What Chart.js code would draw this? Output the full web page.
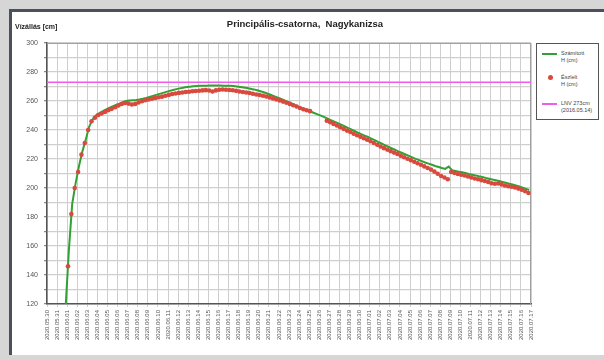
<!DOCTYPE html>
<html lang="hu">
<head>
<meta charset="utf-8">
<title>Principális-csatorna, Nagykanizsa</title>
<script src="https://cdn.jsdelivr.net/npm/chart.js@4.4.1/dist/chart.umd.min.js"></script>
<style>
  html, body { margin: 0; padding: 0; background: #fff; }
  #page { position: relative; width: 604px; height: 360px; background: #d6d6d6; overflow: hidden;
          font-family: "Liberation Sans", Arial, sans-serif; }
  #sheet { position: absolute; left: 9px; top: 9px; width: 595px; height: 346px; background: #fff;
           border-top: 3px solid #4b515c; border-left: 3px solid #4b515c; box-sizing: border-box; }
  #chart { position: absolute; left: 0; top: 0; }
  #title { position: absolute; left: 0; width: 610px; top: 18px; text-align: center;
           font-weight: bold; font-size: 9.5px; color: #222; }
  #ytitle { position: absolute; left: 15px; top: 23px; font-weight: bold; font-size: 7px; color: #222; }
  #legend { position: absolute; left: 536px; top: 43px; width: 63px; height: 77px; background: #fff;
            border: 1.5px solid #555; box-sizing: border-box; font-size: 5.5px; line-height: 7px; color: #444; }
  .item { position: absolute; left: 24px; }
  .swatch { position: absolute; left: 5px; width: 15px; height: 2px; }
  .dot { position: absolute; left: 11px; width: 5px; height: 5px; border-radius: 50%; background: #d84a3e; }
</style>
</head>
<body>
<div id="page">
  <div id="sheet"></div>
  <canvas id="chart" width="604" height="360"></canvas>
  <div id="title">Principális-csatorna,&nbsp; Nagykanizsa</div>
  <div id="ytitle">Vízállás [cm]</div>
  <div id="legend">
    <div class="swatch" style="top:9px;background:#33a033;"></div>
    <div class="item" style="top:6px;">Számított<br>H (cm)</div>
    <div class="dot" style="top:31px;"></div>
    <div class="item" style="top:30px;">Észlelt<br>H (cm)</div>
    <div class="swatch" style="top:59px;background:#f05af0;"></div>
    <div class="item" style="top:56px;">LNV 273cm<br>(2016.05.14)</div>
  </div>
</div>
<script>
// Daily tick labels along the time axis (day index 0..48)
const dateLabels = [
  "2020.05.30", "2020.05.31", "2020.06.01", "2020.06.02", "2020.06.03", "2020.06.04", "2020.06.05",
  "2020.06.06", "2020.06.07", "2020.06.08", "2020.06.09", "2020.06.10", "2020.06.11", "2020.06.12",
  "2020.06.13", "2020.06.14", "2020.06.15", "2020.06.16", "2020.06.17", "2020.06.18", "2020.06.19",
  "2020.06.20", "2020.06.21", "2020.06.22", "2020.06.23", "2020.06.24", "2020.06.25", "2020.06.26",
  "2020.06.27", "2020.06.28", "2020.06.29", "2020.06.30", "2020.07.01", "2020.07.02", "2020.07.03",
  "2020.07.04", "2020.07.05", "2020.07.06", "2020.07.07", "2020.07.08", "2020.07.09", "2020.07.10",
  "2020.07.11", "2020.07.12", "2020.07.13", "2020.07.14", "2020.07.15", "2020.07.16", "2020.07.17"
];

// Series are sampled every 8 hours; start offsets are hours after the first label
const STEP_HOURS = 8;
const COMPUTED_START_H = 44;
const OBSERVED_START_H = 50;

// Computed water level, cm
const computedLevels = [
  116, 157, 189, 203, 215, 225, 233, 242, 247, 250,
  251.5, 252.8, 254, 255.2, 256.3, 257.3, 258.2, 259.2, 260.0, 260.3,
  260.5, 260.7, 261.0, 261.5, 262.1, 262.8, 263.5, 264.2, 264.9, 265.6,
  266.3, 267.0, 267.6, 268.2, 268.7, 269.2, 269.6, 269.9, 270.2, 270.4,
  270.5, 270.6, 270.6, 270.7, 270.7, 270.7, 270.7, 270.6, 270.6, 270.5,
  270.3, 270.0, 269.7, 269.3, 268.9, 268.5, 268.0, 267.4, 266.7, 266.0,
  265.2, 264.3, 263.4, 262.5, 261.6, 260.6, 259.6, 258.6, 257.5, 256.4,
  255.3, 254.4, 253.5, 252.6, 251.7, 250.8, 249.9, 248.9, 247.8, 246.7,
  245.8, 244.8, 243.7, 242.6, 241.5, 240.4, 239.3, 238.2, 237.1, 236.1,
  235.2, 234.1, 233.0, 231.8, 230.7, 229.6, 228.5, 227.4, 226.4, 225.3,
  224.3, 223.3, 222.3, 221.3, 220.3, 219.4, 218.5, 217.6, 216.8, 216.0,
  215.2, 214.5, 213.8, 213.2, 214.8, 212.3, 211.8, 211.3, 210.8, 210.3,
  209.7, 209.2, 208.7, 208.1, 207.6, 207.0, 206.4, 205.8, 205.3, 204.8,
  204.2, 203.6, 203.0, 202.4, 201.7, 201.0, 200.2, 199.4, 198.6
];

// Observed water level, cm (null = no reading)
const observedLevels = [
  146, 182, 200, 211, 223, 231, 240, 246, 248.5, 250.3,
  251.4, 252.5, 253.6, 254.6, 255.7, 256.9, 257.9, 258.6, 258.2, 257.6,
  258.0, 259.0, 259.8, 260.5, 261.0, 261.6, 262.1, 262.6, 263.0, 263.6,
  264.2, 264.8, 265.2, 265.6, 265.9, 266.2, 266.4, 266.7, 266.9, 267.1,
  267.3, 267.5, 267.2, 266.6, 267.3, 267.8, 267.9, 267.8, 267.6, 267.4,
  267.0, 266.6, 266.2, 265.9, 265.5, 265.0, 264.5, 264.1, 263.6, 263.1,
  262.5, 261.8, 261.1, 260.4, 259.6, 258.8, 258.0, 257.1, 256.2, 255.2,
  254.3, 253.6, 253.0, null, null, null, null, 246.4, 245.3, 244.2,
  243.1, 241.9, 240.8, 239.6, 238.6, 237.5, 236.4, 235.4, 234.3, 233.3,
  232.2, 231.0, 229.8, 228.6, 227.5, 226.5, 225.4, 224.4, 223.4, 222.3,
  221.2, 220.2, 219.2, 218.1, 217.1, 216.0, 214.9, 213.8, 212.7, 211.3,
  209.8, 208.3, 207.2, 206.0, 211.0, 210.3, 209.7, 209.1, 208.6, 207.9,
  207.2, 206.6, 206.0, 205.4, 204.8, 204.2, 203.3, 202.9, 203.1, 202.5,
  201.7, 201.2, 200.9, 200.4, 199.6, 198.8, 197.8, 196.6
];

// Flood reference level, cm
const lnvLevel = 273;

// Y axis range and grid step
const yMin = 120, yMax = 300, yStep = 10, yLabelEvery = 20;

const toPoints = (levels, startH) =>
  levels.map((v, i) => ({ x: (startH + i * STEP_HOURS) / 24, y: v }));

const lastDay = dateLabels.length - 1;

// Frame around the plotting area
const frame = {
  id: 'frame',
  beforeDatasetsDraw(chart) {
    const { ctx, chartArea: a } = chart;
    ctx.save();
    ctx.strokeStyle = '#a0a0a0';
    ctx.lineWidth = 1;
    ctx.beginPath();
    ctx.moveTo(a.left, a.top + 0.5);
    ctx.lineTo(a.right - 0.5, a.top + 0.5);
    ctx.lineTo(a.right - 0.5, a.bottom);
    ctx.stroke();
    ctx.restore();
  }
};

new Chart(document.getElementById('chart'), {
  type: 'line',
  data: {
    datasets: [
      {
        label: 'Észlelt H (cm)',
        data: toPoints(observedLevels, OBSERVED_START_H),
        showLine: false,
        pointStyle: 'circle',
        pointRadius: 2.3,
        pointBackgroundColor: '#d84a3e',
        pointBorderWidth: 0,
        order: 0
      },
      {
        label: 'Számított H (cm)',
        data: toPoints(computedLevels, COMPUTED_START_H),
        borderColor: '#33a033',
        borderWidth: 2,
        pointRadius: 0,
        tension: 0,
        order: 1
      },
      {
        label: 'LNV',
        data: [{ x: 0, y: lnvLevel }, { x: lastDay, y: lnvLevel }],
        borderColor: '#f05af0',
        borderWidth: 1.5,
        pointRadius: 0,
        order: 2
      }
    ]
  },
  options: {
    responsive: false,
    animation: false,
    events: [],
    layout: { padding: { left: 0, top: 43, right: 73, bottom: 4 } },
    plugins: { legend: { display: false }, tooltip: { enabled: false }, title: { display: false } },
    scales: {
      x: {
        type: 'linear',
        min: 0,
        max: lastDay,
        afterBuildTicks(scale) {
          scale.ticks = dateLabels.map((_, i) => ({ value: i }));
        },
        afterFit(scale) {
          scale.height = 52;
          scale.paddingLeft = 0;
          scale.paddingRight = 0;
        },
        ticks: {
          autoSkip: false,
          minRotation: 90,
          maxRotation: 90,
          padding: 3,
          color: '#555',
          font: { family: '"Liberation Sans", Arial, sans-serif', size: 6 },
          callback: (v) => dateLabels[v] ?? ''
        },
        grid: { color: '#cfcfcf', lineWidth: 1, drawTicks: true, tickLength: 3, tickColor: '#cfcfcf' },
        border: { display: true, color: '#555', width: 1.5 }
      },
      y: {
        min: yMin,
        max: yMax,
        afterFit(scale) {
          scale.width = 47;
          scale.paddingTop = 0;
          scale.paddingBottom = 0;
        },
        ticks: {
          stepSize: yStep,
          padding: 6,
          color: '#555',
          font: { family: '"Liberation Sans", Arial, sans-serif', size: 7 },
          callback: (v) => (v % yLabelEvery === 0 ? String(v) : '')
        },
        grid: { color: '#cfcfcf', lineWidth: 1.2, drawTicks: true, tickLength: 3, tickColor: '#888' },
        border: { display: true, color: '#555', width: 1.5 }
      }
    }
  },
  plugins: [frame]
});
</script>
</body>
</html>
